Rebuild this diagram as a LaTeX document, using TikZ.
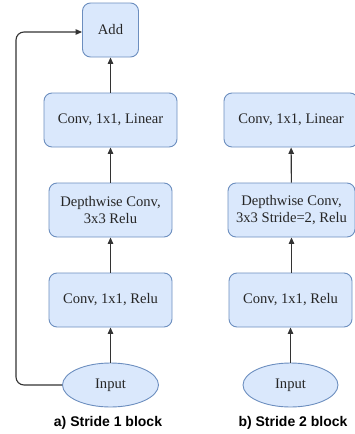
\documentclass[tikz,border=0pt]{standalone}
\usepackage{fontspec}
\setmainfont{Liberation Serif}
\newfontfamily\capfont{Liberation Sans}
\usetikzlibrary{shapes.geometric,arrows.meta}
\definecolor{boxfill}{HTML}{DAE8FC}
\definecolor{boxline}{HTML}{6C8EBF}
\definecolor{arrowc}{HTML}{333333}
\begin{document}
\begin{tikzpicture}[x=1pt,y=-1pt,
  blk/.style={draw=boxline,fill=boxfill,line width=0.9pt,rounded corners=8pt,
    minimum height=54pt,inner sep=2pt,align=center,text=black!85,
    font=\fontsize{14.6}{17}\selectfont},
  inp/.style={draw=boxline,fill=boxfill,line width=0.9pt,ellipse,text=black!85,
    minimum height=44pt,inner sep=0pt,font=\fontsize{14.6}{17}\selectfont},
  arr/.style={draw=arrowc,line width=1.1pt,-{Triangle[length=6.5pt,width=5.5pt]}},
  captext/.style={font=\capfont\bfseries\fontsize{14}{16}\selectfont}]
\useasboundingbox (0,0) rectangle (355,434);
% left column
\node[blk,minimum width=56pt] (add) at (110.5,30) {Add};
\node[blk,minimum width=133pt] (linA) at (110.5,120) {Conv, 1x1, Linear};
\node[blk,minimum width=123pt] (dwA) at (110.5,210) {Depthwise Conv,\\3x3 Relu};
\node[blk,minimum width=123pt] (reA) at (110.5,300) {Conv, 1x1, Relu};
\node[inp,minimum width=96pt] (inA) at (110.5,385) {Input};
\node[captext] (capA) at (108,423) {a) Stride 1 block};
\draw[arr] (inA) -- (reA);
\draw[arr] (reA) -- (dwA);
\draw[arr] (dwA) -- (linA);
\draw[arr] (linA) -- (add);
\coordinate (c1) at (16,385);
\coordinate (c2) at (16,32);
\draw[arr,rounded corners=8pt] (inA.west) -- (c1) -- (c2) -- (add.west |- c2);
% right column
\node[blk,minimum width=134pt] (linB) at (291,120) {Conv, 1x1, Linear};
\node[blk,minimum width=127pt] (dwB) at (291.5,210) {Depthwise Conv,\\3x3 Stride=2, Relu};
\node[blk,minimum width=123pt] (reB) at (290.5,300) {Conv, 1x1, Relu};
\node[inp,minimum width=95pt] (inB) at (290.5,385) {Input};
\node[captext] (capB) at (293,423) {b) Stride 2 block};
\draw[arr] (inB) -- (reB);
\draw[arr] (reB.north -| dwB) -- (dwB);
\draw[arr] (dwB) -- (linB);
\end{tikzpicture}
\end{document}
